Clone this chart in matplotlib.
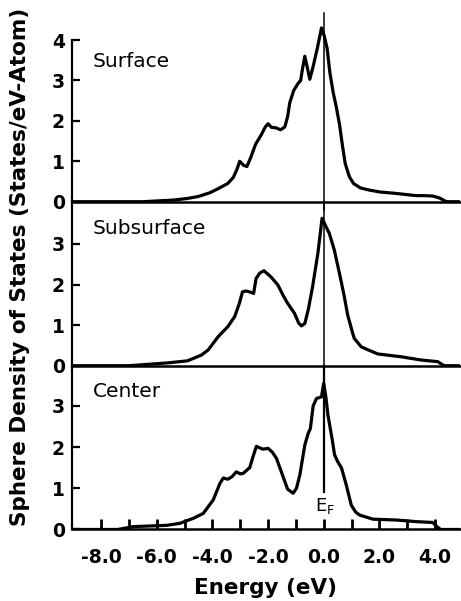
import numpy as np
import matplotlib
matplotlib.use("Agg")
import matplotlib.pyplot as plt

# energy (eV) and DOS (states/eV-atom)
surf_e = [-9.05, -6.5, -5.4, -4.9, -4.5, -4.1, -3.8, -3.45, -3.25, -3.12, -3.02, -2.88, -2.76,
          -2.62, -2.45, -2.25, -2.1, -2.0, -1.88, -1.73, -1.55, -1.4, -1.3, -1.22, -1.08,
          -0.93, -0.83, -0.76, -0.68, -0.6, -0.5, -0.38, -0.23, -0.08, 0.02, 0.12, 0.22,
          0.34, 0.45, 0.57, 0.67, 0.77, 0.92, 1.07, 1.32, 1.62, 2.02, 2.52, 2.92, 3.32,
          3.62, 3.92, 4.17, 4.32, 4.42, 4.9]
surf_dos = [0, 0, 0.04, 0.08, 0.13, 0.22, 0.32, 0.45, 0.6, 0.8, 1.0, 0.9, 0.87,
            1.1, 1.42, 1.65, 1.85, 1.93, 1.84, 1.83, 1.78, 1.85, 2.1, 2.45, 2.75,
            2.92, 3.0, 3.3, 3.6, 3.35, 3.03, 3.35, 3.8, 4.3, 4.1, 3.8, 3.2,
            2.7, 2.35, 1.9, 1.4, 0.95, 0.62, 0.45, 0.34, 0.29, 0.24, 0.21, 0.18, 0.15,
            0.15, 0.14, 0.09, 0.03, 0, 0]

sub_e = [-9.05, -7.0, -6.2, -5.6, -4.9, -4.4, -4.15, -3.8, -3.45, -3.2, -3.03, -2.92, -2.8,
         -2.67, -2.52, -2.43, -2.3, -2.15, -2.0, -1.9, -1.65, -1.45, -1.3, -1.05, -0.9,
         -0.8, -0.68, -0.55, -0.4, -0.21, -0.06, 0.1, 0.2, 0.38, 0.62, 0.74, 0.86, 1.04,
         1.1, 1.34, 1.46, 1.94, 2.78, 3.5, 4.1, 4.25, 4.35, 4.9]
sub_dos = [0, 0, 0.04, 0.07, 0.12, 0.26, 0.39, 0.71, 0.96, 1.21, 1.54, 1.82, 1.84,
           1.82, 1.78, 2.15, 2.28, 2.34, 2.25, 2.19, 1.99, 1.72, 1.54, 1.29, 1.05,
           0.98, 1.04, 1.4, 1.95, 2.77, 3.63, 3.4, 3.26, 2.85, 2.1, 1.7, 1.25, 0.8,
           0.67, 0.47, 0.43, 0.29, 0.22, 0.14, 0.1, 0.03, 0, 0]

cen_e = [-9.05, -7.4, -6.84, -5.65, -5.17, -4.69, -4.33, -3.97, -3.73, -3.61, -3.45, -3.3,
         -3.14, -3.0, -2.9, -2.66, -2.54, -2.42, -2.3, -2.18, -2.0, -1.85, -1.7, -1.46,
         -1.3, -1.1, -0.98, -0.86, -0.68, -0.56, -0.48, -0.38, -0.26, -0.08, 0.0, 0.08,
         0.15, 0.3, 0.39, 0.5, 0.64, 0.81, 0.99, 1.15, 1.29, 1.77, 2.61, 3.33, 3.92,
         4.1, 4.2, 4.9]
cen_dos = [0, 0, 0.07, 0.1, 0.15, 0.27, 0.39, 0.72, 1.12, 1.25, 1.22, 1.28,
           1.4, 1.35, 1.36, 1.5, 1.77, 2.02, 1.98, 1.95, 1.97, 1.88, 1.73, 1.28,
           0.98, 0.88, 1.0, 1.32, 2.05, 2.33, 2.45, 3.0, 3.18, 3.22, 3.55, 3.2,
           2.78, 2.2, 1.81, 1.65, 1.49, 1.08, 0.59, 0.42, 0.35, 0.25, 0.23, 0.19, 0.17,
           0.05, 0, 0]

x_ticks = [-8, -6, -4, -2, 0, 2, 4]
x_minor = [-7, -5, -3, -1, 1, 3]
x_ticklabels = ["-8.0", "-6.0", "-4.0", "-2.0", "0.0", "2.0", "4.0"]

plt.rcParams['font.family'] = ['DejaVu Sans']

fig = plt.figure(figsize=(4.61, 6.01), dpi=100)
L, W = 0.156, 0.842
ax_top = fig.add_axes([L, 0.6644, W, 0.319])
ax_mid = fig.add_axes([L, 0.3915, W, 0.2729])
ax_bot = fig.add_axes([L, 0.119, W, 0.2725])

panels = [
    (ax_top, surf_e, surf_dos, "Surface", 4.745, [0, 1, 2, 3, 4], 3.46),
    (ax_mid, sub_e, sub_dos, "Subsurface", 4.04, [0, 1, 2, 3], 3.37),
    (ax_bot, cen_e, cen_dos, "Center", 3.976, [0, 1, 2, 3], 3.34),
]

for ax, e, d, name, ytop, yt, ylab in panels:
    ax.plot(e, d, color="black", lw=2.3, solid_joinstyle="round", zorder=2)
    ax.set_xlim(-9.05, 4.9)
    ax.set_ylim(0, ytop)
    ax.patch.set_alpha(0)
    for s in ["top", "right"]:
        ax.spines[s].set_visible(False)
    ax.spines["left"].set_linewidth(1.6)
    ax.spines["bottom"].set_linewidth(1.8)
    ax.set_yticks(yt)
    ax.tick_params(axis="y", direction="in", length=5.5, width=1.6, pad=5,
                   labelsize=13.5)
    for t in ax.get_yticklabels():
        t.set_fontweight("bold")
    ax.text(-8.3, ylab, name, fontsize=14.5, va="center", ha="left")

ax_top.spines["left"].set_bounds(0, 4)
for ax in (ax_top, ax_mid):
    ax.set_xticks([])

ax_bot.set_xticks(x_ticks)
ax_bot.set_xticks(x_minor, minor=True)
ax_bot.set_xticklabels(x_ticklabels, fontweight="bold")
ax_bot.tick_params(axis="x", which="both", direction="in", length=7, width=2.0,
                   pad=13, labelsize=13.5)
ax_bot.set_axisbelow(False)

# Fermi level line
ax_top.plot([0, 0], [-0.2, 4.67], color="black", lw=1.1, clip_on=False)
ax_mid.plot([0, 0], [0, 4.04], color="black", lw=1.1, clip_on=False)
ax_bot.plot([0, 0], [0.92, 3.976], color="black", lw=1.6, clip_on=False)
ax_bot.text(0.05, 0.57, r"E$_\mathregular{F}$", fontsize=13, ha="center", va="center")

ax_bot.set_xlabel("Energy (eV)", fontsize=15.5, fontweight="bold", labelpad=8)
fig.text(0.043, 0.556, "Sphere Density of States (States/eV-Atom)", rotation=90,
         fontsize=15.5, fontweight="bold", ha="center", va="center")

fig.savefig("out.png", dpi=100)
